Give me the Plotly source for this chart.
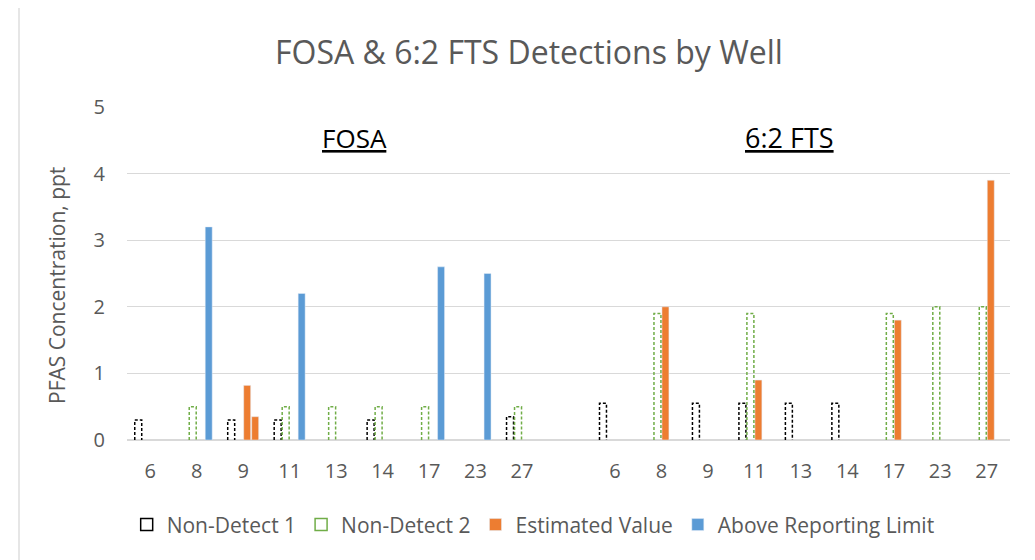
import plotly.graph_objects as go

wells = ["6", "8", "9", "11", "13", "14", "17", "23", "27"]
tick_labels = wells + [""] + wells
groups = ["FOSA", "6:2 FTS"]

# FOSA wells, one empty slot, then 6:2 FTS wells (None = no bar)
non_detect_1 = [0.3, None, 0.3, 0.3, None, 0.3, None, None, 0.35,
                None,
                0.55, None, 0.55, 0.55, 0.55, 0.55, None, None, None]
non_detect_2 = [None, 0.5, None, 0.5, 0.5, 0.5, 0.5, None, 0.5,
                None,
                None, 1.9, None, 1.9, None, None, 1.9, 2.0, 2.0]
estimated = [None, None, 0.82, None, None, None, None, None, None,
             None,
             None, 2.0, None, 0.9, None, None, 1.8, None, 3.9]
# second estimated result at FOSA well 9, plotted in the last slot
estimated_2 = [None, None, 0.35, None, None, None, None, None, None,
               None,
               None, None, None, None, None, None, None, None, None]
above_rl = [None, 3.2, None, 2.2, None, None, 2.6, 2.5, None,
            None,
            None, None, None, None, None, None, None, None, None]

FONT = "Open Sans"
GREY = "#595959"
BLACK_ND = "#000000"
GREEN_ND = "#70AD47"
ORANGE = "#ED7D31"
BLUE = "#5B9BD5"

xs = list(range(len(tick_labels)))
step = 0.172
bw = 0.15


def offset(slot):
    return (slot - 1.5) * step - bw / 2


def outline(vals, slot):
    px, py = [], []
    for i, v in zip(xs, vals):
        if v is None:
            continue
        x0 = i + offset(slot)
        x1 = x0 + bw
        px += [x0, x0, x1, x1, None]
        py += [0, v, v, 0, None]
    return px, py


fig = go.Figure()

# legend-only swatches for the dashed series
for name, col in [("Non-Detect 1", BLACK_ND), ("Non-Detect 2", GREEN_ND)]:
    fig.add_trace(go.Bar(x=[None], y=[None], name=name,
                         marker=dict(color="white", line=dict(color=col, width=1.5))))

fig.add_trace(go.Bar(x=xs, y=estimated, name="Estimated Value", marker_color=ORANGE,
                     width=bw, offset=offset(2)))
fig.add_trace(go.Bar(x=xs, y=above_rl, name="Above Reporting Limit", marker_color=BLUE,
                     width=bw, offset=offset(3)))
fig.add_trace(go.Bar(x=xs, y=estimated_2, name="Estimated Value", marker_color=ORANGE,
                     width=bw, offset=offset(3), showlegend=False))

for vals, slot, col in [(non_detect_1, 0, BLACK_ND), (non_detect_2, 1, GREEN_ND)]:
    px, py = outline(vals, slot)
    fig.add_trace(go.Scatter(x=px, y=py, mode="lines", showlegend=False,
                             line=dict(color=col, width=1.5, dash="3px,2px")))

annotations = [
    dict(text="FOSA & 6:2 FTS Detections by Well", x=0.4553, y=1.168,
         font=dict(size=32, color=GREY)),
    dict(text="PFAS Concentration, ppt", x=-0.0793, y=0.4655, textangle=-90,
         font=dict(size=21, color=GREY)),
    dict(text="<u>" + groups[0] + "</u>", x=0.2582, y=0.907,
         font=dict(size=26, color="black")),
    dict(text="<u>" + groups[1] + "</u>", x=0.7508, y=0.907,
         font=dict(size=27, color="black")),
]
for a in annotations:
    a.update(xref="paper", yref="paper", showarrow=False,
             xanchor="center", yanchor="middle")

# the page adds an 8px body margin, so the margins are shifted to compensate
fig.update_layout(
    width=1035, height=560,
    margin=dict(l=119, r=33, t=99, b=128),
    paper_bgcolor="white", plot_bgcolor="white",
    font=dict(family=FONT, color=GREY, size=19),
    barmode="overlay",
    annotations=annotations,
    shapes=[dict(type="rect", xref="paper", yref="paper",
                 x0=-0.1223, x1=1.1, y0=-0.5, y1=1.3003,
                 line=dict(color="#D9D9D9", width=1.3), layer="below")],
    xaxis=dict(range=[-0.5, len(tick_labels) - 0.5], tickmode="array",
               tickvals=xs, ticktext=tick_labels, showgrid=False,
               zeroline=False, showline=False, ticks="",
               ticklabelstandoff=17, tickfont=dict(size=20, color=GREY)),
    yaxis=dict(range=[0, 5], dtick=1, showgrid=True, gridcolor="#D9D9D9",
               gridwidth=1.2, zeroline=True, zerolinecolor="#D9D9D9",
               zerolinewidth=1.6, showline=False, ticks="",
               ticklabelstandoff=21, tickfont=dict(size=20, color=GREY)),
    legend=dict(orientation="h", x=0.46, xanchor="center", y=-0.255,
                yanchor="middle", font=dict(size=21, color=GREY),
                traceorder="normal"),
    showlegend=True,
)

fig.write_html("out.html")
